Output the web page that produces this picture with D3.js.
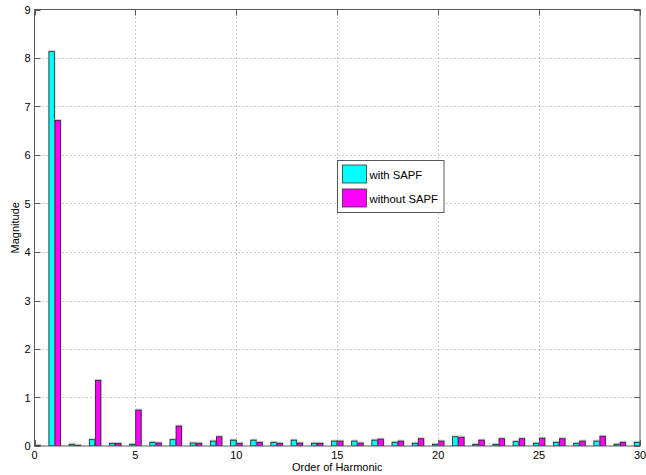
<!DOCTYPE html>
<html>
<head>
<meta charset="utf-8">
<script src="https://cdn.jsdelivr.net/npm/d3@7"></script>
<style>
  html, body { margin: 0; padding: 0; background: #fff; }
  svg { display: block; font-family: "Liberation Sans", Arial, sans-serif; }
</style>
</head>
<body>
<svg id="chart" width="646" height="475"></svg>
<script>
// Harmonic orders and spectrum magnitudes
const harmonics = d3.range(0, 31);
const withSAPF = [0.01, 8.13, 0.034, 0.13, 0.05, 0.035, 0.075, 0.13, 0.06, 0.1, 0.12,
  0.12, 0.075, 0.12, 0.055, 0.1, 0.1, 0.12, 0.075, 0.055, 0.035,
  0.19, 0.03, 0.03, 0.09, 0.055, 0.075, 0.055, 0.1, 0.035, 0.075];
const withoutSAPF = [0.01, 6.71, 0.014, 1.35, 0.05, 0.74, 0.06, 0.41, 0.055, 0.19, 0.055,
  0.075, 0.055, 0.06, 0.055, 0.1, 0.06, 0.14, 0.1, 0.15, 0.1,
  0.18, 0.12, 0.15, 0.15, 0.16, 0.15, 0.1, 0.2, 0.075, 0.06];
const seriesNames = ["with SAPF", "without SAPF"];
const seriesColors = ["#00ffff", "#ff00ff"];
const xTicks = [0, 5, 10, 15, 20, 25, 30];
const yTicks = [0, 1, 2, 3, 4, 5, 6, 7, 8, 9];

const svg = d3.select("#chart");
const m = { left: 34.5, right: 640, top: 9.5, bottom: 446 };

const x = d3.scaleLinear().domain([0, 30]).range([m.left, m.right]);
const y = d3.scaleLinear().domain([0, 9]).range([m.bottom, m.top]);
const axisColor = "#5a5a5a";

svg.append("defs").append("clipPath").attr("id", "plot-clip")
  .append("rect")
  .attr("x", m.left).attr("y", m.top - 2)
  .attr("width", m.right - m.left).attr("height", m.bottom - m.top + 2);

// Dotted grid
const grid = svg.append("g").attr("stroke", "#9a9a9a").attr("stroke-dasharray", "1,3").attr("stroke-width", 1);
grid.selectAll(".gx").data(xTicks.slice(1, -1)).join("line")
  .attr("x1", d => Math.round(x(d)) + 0.5).attr("x2", d => Math.round(x(d)) + 0.5)
  .attr("y1", m.top).attr("y2", m.bottom);
grid.selectAll(".gy").data(yTicks.slice(1, -1)).join("line")
  .attr("y1", d => Math.round(y(d)) + 0.5).attr("y2", d => Math.round(y(d)) + 0.5)
  .attr("x1", m.left).attr("x2", m.right);

// Grouped bars
const barW = 0.27, gap = 0.015;
const bars = svg.append("g").attr("clip-path", "url(#plot-clip)");
const series = [withSAPF, withoutSAPF];
series.forEach((vals, si) => {
  const off = si === 0 ? -(gap + barW) : gap;
  const data = harmonics.map((h, i) => ({ h, v: vals[i] }));
  // soft grey halo under each bar
  bars.append("g").selectAll("rect").data(data).join("rect")
    .attr("x", d => x(d.h + off) - 0.5)
    .attr("y", d => y(d.v) - 1.5)
    .attr("width", x(barW) - x(0) + 1.5)
    .attr("height", d => Math.max(0, y(0) - y(d.v)) + 1.5)
    .attr("fill", "#c8c8c8");
  bars.append("g").selectAll("rect").data(data).join("rect")
    .attr("x", d => x(d.h + off))
    .attr("y", d => y(d.v))
    .attr("width", x(barW) - x(0))
    .attr("height", d => Math.max(0, y(0) - y(d.v)))
    .attr("fill", seriesColors[si])
    .attr("stroke", "#222")
    .attr("stroke-width", 0.8);
});

// Axes box with inward ticks on all sides
const axes = svg.append("g").attr("stroke", axisColor).attr("stroke-width", 1).attr("fill", "none");
axes.append("rect")
  .attr("x", m.left).attr("y", m.top)
  .attr("width", m.right - m.left).attr("height", m.bottom - m.top);
const tl = 6;
axes.selectAll(".tx").data(xTicks).join("path")
  .attr("d", d => {
    const px = Math.round(x(d)) + 0.5;
    return `M${px},${m.bottom}v${-tl}M${px},${m.top}v${tl}`;
  });
axes.selectAll(".ty").data(yTicks).join("path")
  .attr("d", d => {
    const py = Math.round(y(d)) + 0.5;
    return `M${m.left},${py}h${tl}M${m.right},${py}h${-tl}`;
  });

// Tick labels
const lbl = svg.append("g").attr("font-size", 11).attr("fill", "#000");
lbl.selectAll(".xl").data(xTicks).join("text")
  .attr("x", d => x(d)).attr("y", m.bottom + 12.5)
  .attr("text-anchor", "middle").text(d => d);
lbl.selectAll(".yl").data(yTicks).join("text")
  .attr("x", m.left - 4).attr("y", d => y(d) + 4)
  .attr("text-anchor", "end").text(d => d);

// Axis titles
svg.append("text").attr("x", (m.left + m.right) / 2).attr("y", 471)
  .attr("text-anchor", "middle").attr("font-size", 11).text("Order of Harmonic");
svg.append("text").attr("transform", `translate(19,${(m.top + m.bottom) / 2}) rotate(-90)`)
  .attr("text-anchor", "middle").attr("font-size", 11).text("Magnitude");

// Legend
const lg = svg.append("g").attr("transform", "translate(337.5,160.5)");
lg.append("rect").attr("width", 106.5).attr("height", 52)
  .attr("fill", "#fff").attr("stroke", axisColor);
seriesNames.forEach((name, i) => {
  lg.append("rect").attr("x", 5).attr("y", 4.5 + i * 24).attr("width", 24).attr("height", 18)
    .attr("fill", seriesColors[i]).attr("stroke", "#333").attr("stroke-width", 0.8);
  lg.append("text").attr("x", 32).attr("y", 18 + i * 24).attr("font-size", 11.3).text(name);
});
</script>
</body>
</html>
